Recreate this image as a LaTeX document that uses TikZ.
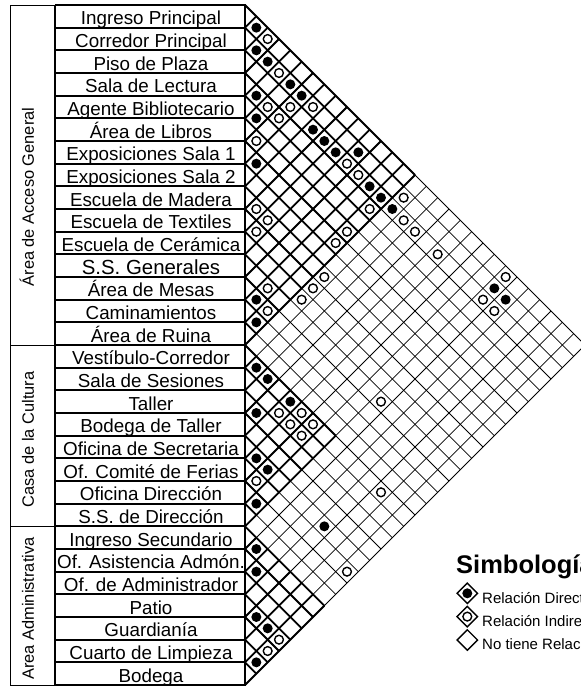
\documentclass[tikz,border=0pt]{standalone}
\usepackage{fontspec}
\setmainfont{Liberation Sans}
\usetikzlibrary{shapes.geometric}
\newcommand\biggerlbl{\fontsize{20.4}{22}\selectfont}
\begin{document}
\begin{tikzpicture}[x=1pt,y=-1pt,
  thingrid/.style={line width=0.8pt},
  thickgrid/.style={line width=1.8pt},
  rowline/.style={line width=2pt},
  grpline/.style={line width=1pt},
  lbl/.style={font=\fontsize{18.8}{20}\selectfont, anchor=base, inner sep=0pt},
  grp/.style={font=\fontsize{16.4}{18}\selectfont, rotate=90, anchor=base, inner sep=0pt},
  dirdot/.style={circle, fill=black, inner sep=0pt, minimum size=10pt},
  inddot/.style={circle, draw=black, fill=white, line width=1.4pt, inner sep=0pt, minimum size=8.8pt},
  legdia/.style={diamond, draw=black, line width=1.4pt, inner sep=0pt, minimum width=21pt, minimum height=21pt},
  legtxt/.style={font=\fontsize{15}{17}\selectfont, anchor=base west, inner sep=0pt}
]
\useasboundingbox (0,0) rectangle (581,686);
\def\rowh{22.6667}
% thin full grid
\foreach \k in {0,...,30}{
  \draw[thingrid] (245,{5+\k*\rowh}) -- ++({(30-\k)*\rowh/2},{(30-\k)*\rowh/2});
  \draw[thingrid] (245,{5+\k*\rowh}) -- ++({\k*\rowh/2},{-\k*\rowh/2});
}
% thick within-group triangles
\foreach \a/\b in {0/15,15/23,23/30}{
  \foreach \k in {\a,...,\b}{
    \draw[thickgrid] (245,{5+\k*\rowh}) -- ++({(\b-\k)*\rowh/2},{(\b-\k)*\rowh/2});
    \draw[thickgrid] (245,{5+\k*\rowh}) -- ++({(\k-\a)*\rowh/2},{-(\k-\a)*\rowh/2});
  }
}
% label boxes
\foreach \k in {0,...,30}{
  \draw[rowline] (55,{5+\k*\rowh}) -- (245,{5+\k*\rowh});
}
\draw[rowline] (245,4) -- (245,686);
\draw[line width=1.4pt] (55,5) -- (55,685);
\draw[grpline] (10,5) rectangle (55,685);
\draw[grpline] (10,{5+15*\rowh}) -- (55,{5+15*\rowh});
\draw[grpline] (10,{5+23*\rowh}) -- (55,{5+23*\rowh});
% row labels
\foreach \t [count=\n from 0] in {Ingreso Principal, Corredor Principal, Piso de Plaza, Sala de Lectura, Agente Bibliotecario, Área de Libros, Exposiciones Sala 1, Exposiciones Sala 2, Escuela de Madera, Escuela de Textiles, Escuela de Cerámica, \biggerlbl S.S. Generales, Área de Mesas, Caminamientos, Área de Ruina, Vestíbulo-Corredor, Sala de Sesiones, Taller, Bodega de Taller, Oficina de Secretaria, Of. Comité de Ferias, Oficina Dirección, S.S. de Dirección, Ingreso Secundario, Of. Asistencia Admón., Of. de Administrador, Patio, Guardianía, Cuarto de Limpieza, Bodega}{
  \node[lbl] (r\n) at (151,{5+(\n+1)*\rowh-3}) {\t};
}
% group labels
\node[grp] (g1) at (34,197) {Área de Acceso General};
\node[grp] (g2) at (34,439.5) {Casa de la Cultura};
\node[grp] (g3) at (34,608.5) {Area Administrativa};
% direct relations
\foreach \i/\j in {0/1,1/2,1/3,1/5,3/4,1/6,4/5,2/8,2/9,2/10,1/11,6/7,2/13,2/14,2/15,1/23,1/24,12/13,13/14,15/16,15/17,15/19,17/18,19/20,19/21,21/22,19/26,23/24,24/25,26/27,26/28,28/29}{
  \node[dirdot] (d\i-\j) at ({245+(\j-\i)*\rowh/2},{5+(\i+\j+1)*\rowh/2}) {};
}
% indirect relations
\foreach \i/\j in {0/2,1/4,3/5,2/6,1/7,3/6,5/6,2/11,2/12,1/15,3/14,2/16,2/17,2/19,0/23,2/23,2/24,8/9,8/10,9/10,5/14,6/14,8/15,11/13,9/15,10/15,12/14,16/19,15/20,16/20,15/21,16/21,20/21,11/23,15/27,20/29,26/29,27/29}{
  \node[inddot] (o\i-\j) at ({245+(\j-\i)*\rowh/2},{5+(\i+\j+1)*\rowh/2}) {};
}
% legend
\node[font=\bfseries\fontsize{25.5}{30}\selectfont, anchor=base west, inner sep=0pt] (simb) at (456,573) {Simbología};
\node[legdia] (ld1) at (467.3,593.3) {};
\node[dirdot] (ldd1) at (ld1.center) {};
\node[legtxt] (lt1) at (482,603) {Relación Directa};
\node[legdia] (ld2) at (467.3,616.6) {};
\node[inddot] (ldi2) at (ld2.center) {};
\node[legtxt] (lt2) at (482,626) {Relación Indirecta};
\node[legdia] (ld3) at (467.3,640) {};
\node[legtxt] (lt3) at (482,649) {No tiene Relación};
\end{tikzpicture}
\end{document}
